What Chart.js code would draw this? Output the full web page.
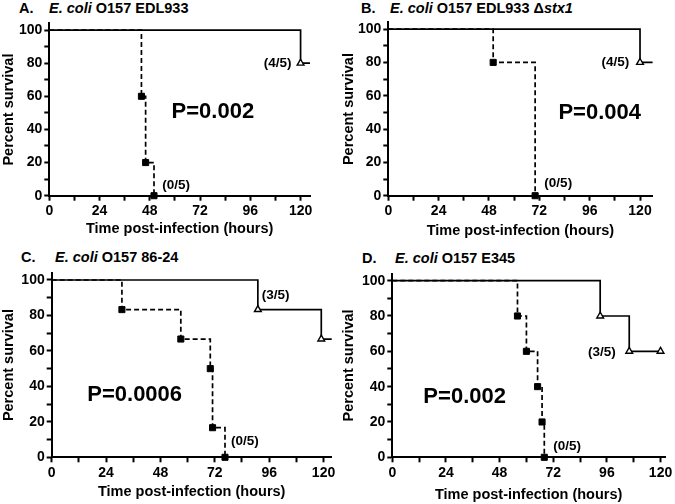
<!DOCTYPE html>
<html lang="en">
<head>
<meta charset="UTF-8">
<title>Survival after infection</title>
<style>
    body { margin: 0; background: #fff; }
    #page { position: relative; width: 675px; height: 504px; overflow: hidden; background: #fff; }
    canvas { position: absolute; }
    .ttl { position: absolute; font: bold 14.5px "Liberation Sans", Arial, sans-serif; line-height: 16px; white-space: nowrap; color: #000; }
</style>
</head>
<body>
<div id="page">
    <div class="ttl" style="left:19px;top:0px">A.</div>
    <div class="ttl" style="left:49px;top:0px"><i>E. coli</i> O157 EDL933</div>
    <div class="ttl" style="left:361px;top:0px">B.</div>
    <div class="ttl" style="left:390px;top:0px"><i>E. coli</i> O157 EDL933 &Delta;<i>stx1</i></div>
    <div class="ttl" style="left:21px;top:249px">C.</div>
    <div class="ttl" style="left:55px;top:249px"><i>E. coli</i> O157 86-24</div>
    <div class="ttl" style="left:362px;top:250px">D.</div>
    <div class="ttl" style="left:395px;top:250px"><i>E. coli</i> O157 E345</div>

    <canvas id="chartA" width="337" height="238" style="left:0px;top:0px"></canvas>
    <canvas id="chartB" width="335" height="240" style="left:340px;top:0px"></canvas>
    <canvas id="chartC" width="337" height="251" style="left:0px;top:250px"></canvas>
    <canvas id="chartD" width="335" height="254" style="left:340px;top:250px"></canvas>
</div>

<script src="https://cdn.jsdelivr.net/npm/chart.js"></script>
<script>
    // hours post-infection and percent survival
    // open triangles = solid line, filled squares = dashed line
    const aOpenHours = [0, 120, 124.5];
    const aOpenSurvival = [100, 80, 80];
    const aFilledHours = [0, 44, 46, 50];
    const aFilledSurvival = [100, 60, 20, 0];

    const bOpenHours = [0, 120, 126];
    const bOpenSurvival = [100, 80, 80];
    const bFilledHours = [0, 50, 70];
    const bFilledSurvival = [100, 80, 0];

    const cOpenHours = [0, 91, 119, 123.6];
    const cOpenSurvival = [100, 83.3, 66.7, 66.7];
    const cFilledHours = [0, 31, 57, 70, 71, 76.5];
    const cFilledSurvival = [100, 83.3, 66.7, 50, 16.7, 0];

    const dOpenHours = [0, 93, 106, 120];
    const dOpenSurvival = [100, 80, 60, 60];
    const dFilledHours = [0, 56, 60, 65, 67, 68];
    const dFilledSurvival = [100, 80, 60, 40, 20, 0];

    const xAxisTitle = 'Time post-infection (hours)';
    const yAxisTitle = 'Percent survival';

    const FONT = '"Liberation Sans", Arial, sans-serif';

    function toPoints(hours, survival) {
        return hours.map((h, i) => ({ x: h, y: survival[i] }));
    }

    // marker only at observed events, not at the start or the tail out to the axis end
    function markerSize(r) {
        return c => (c.raw.x === 0 || c.raw.x > 120) ? 0 : r;
    }

    function notesPlugin(notes) {
        return {
            id: 'notes',
            afterDatasetsDraw(chart) {
                const { ctx, scales: { x, y } } = chart;
                ctx.save();
                ctx.fillStyle = '#000';
                ctx.textBaseline = 'middle';
                notes.forEach(n => {
                    ctx.font = 'bold ' + n.size + 'px ' + FONT;
                    ctx.textAlign = n.align;
                    ctx.fillText(n.text, x.getPixelForValue(n.x), y.getPixelForValue(n.y));
                });
                ctx.restore();
            }
        };
    }

    function makePanel(id, box, xMax, openH, openS, filledH, filledS, notes) {
        return new Chart(document.getElementById(id), {
            type: 'line',
            data: {
                datasets: [
                    {
                        data: toPoints(openH, openS),
                        stepped: true,
                        borderColor: '#000',
                        borderWidth: 1.7,
                        fill: false,
                        pointStyle: 'triangle',
                        pointRadius: markerSize(3.9),
                        pointBackgroundColor: '#fff',
                        pointBorderColor: '#000',
                        pointBorderWidth: 1.4,
                        clip: false
                    },
                    {
                        data: toPoints(filledH, filledS),
                        stepped: true,
                        borderColor: '#000',
                        borderWidth: 1.7,
                        borderDash: [5, 3],
                        fill: false,
                        pointStyle: 'rect',
                        pointRadius: markerSize(4.3),
                        pointBackgroundColor: '#000',
                        pointBorderColor: '#000',
                        pointBorderWidth: 1,
                        clip: false
                    }
                ]
            },
            options: {
                responsive: false,
                animation: false,
                events: [],
                layout: { padding: { left: 0, top: box.top, right: box.right, bottom: 0 } },
                plugins: {
                    legend: { display: false },
                    tooltip: { enabled: false }
                },
                scales: {
                    x: {
                        type: 'linear',
                        min: 0,
                        max: xMax,
                        border: { display: true, color: '#000', width: 2 },
                        grid: { drawOnChartArea: false, drawTicks: true, tickLength: 5, tickColor: '#000', tickWidth: 2 },
                        ticks: {
                            stepSize: 12,
                            includeBounds: false,
                            autoSkip: false,
                            maxRotation: 0,
                            padding: 2,
                            color: '#000',
                            font: { family: FONT, size: 14, weight: 'bold' },
                            callback: v => v % 24 === 0 ? v : ''
                        },
                        title: {
                            display: true,
                            text: xAxisTitle,
                            color: '#000',
                            padding: 0,
                            font: { family: FONT, size: 14.5, weight: 'bold' }
                        },
                        afterFit: s => { s.height = box.xh; s.paddingLeft = 0; s.paddingRight = 0; }
                    },
                    y: {
                        type: 'linear',
                        min: 0,
                        max: 104,
                        border: { display: true, color: '#000', width: 2 },
                        grid: { drawOnChartArea: false, drawTicks: true, tickLength: 5, tickColor: '#000', tickWidth: 2 },
                        ticks: {
                            stepSize: 10,
                            includeBounds: false,
                            autoSkip: false,
                            padding: 2,
                            color: '#000',
                            font: { family: FONT, size: 14, weight: 'bold' },
                            callback: v => v % 20 === 0 ? v : ''
                        },
                        title: {
                            display: true,
                            text: yAxisTitle,
                            color: '#000',
                            padding: 0,
                            font: { family: FONT, size: 14.5, weight: 'bold' }
                        },
                        afterFit: s => { s.width = box.yw; s.paddingTop = 0; s.paddingBottom = 0; }
                    }
                }
            },
            plugins: [notesPlugin(notes)]
        });
    }

    makePanel('chartA', { yw: 49.3, xh: 42.3, top: 23.4, right: 27 }, 124.5,
        aOpenHours, aOpenSurvival, aFilledHours, aFilledSurvival, [
            { text: '(4/5)', x: 115.7, y: 80, align: 'right', size: 13.5 },
            { text: '(0/5)', x: 53.9, y: 6.5, align: 'left', size: 13.5 },
            { text: 'P=0.002', x: 58.4, y: 50.7, align: 'left', size: 22 }
        ]);

    makePanel('chartB', { yw: 48.3, xh: 44.3, top: 22.4, right: 22.4 }, 126,
        bOpenHours, bOpenSurvival, bFilledHours, bFilledSurvival, [
            { text: '(4/5)', x: 114.9, y: 80, align: 'right', size: 13.5 },
            { text: '(0/5)', x: 74.4, y: 7.4, align: 'left', size: 13.5 },
            { text: 'P=0.004', x: 81.1, y: 49.4, align: 'left', size: 22 }
        ]);

    makePanel('chartC', { yw: 51.7, xh: 43.7, top: 22.9, right: 4.1 }, 123.6,
        cOpenHours, cOpenSurvival, cFilledHours, cFilledSurvival, [
            { text: '(3/5)', x: 92.7, y: 91.5, align: 'left', size: 13.5 },
            { text: '(0/5)', x: 79.1, y: 8.8, align: 'left', size: 13.5 },
            { text: 'P=0.0006', x: 15.7, y: 35.1, align: 'left', size: 22 }
        ]);

    makePanel('chartD', { yw: 52.3, xh: 46.7, top: 23.6, right: 10 }, 122,
        dOpenHours, dOpenSurvival, dFilledHours, dFilledSurvival, [
            { text: '(3/5)', x: 100.0, y: 59.5, align: 'right', size: 13.5 },
            { text: '(0/5)', x: 72.0, y: 6.0, align: 'left', size: 13.5 },
            { text: 'P=0.002', x: 13.9, y: 34.3, align: 'left', size: 22 }
        ]);
</script>
</body>
</html>
